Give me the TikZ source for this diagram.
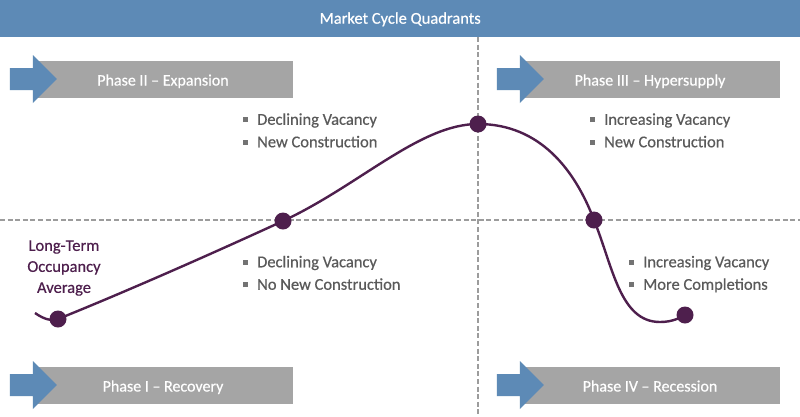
\documentclass[tikz,border=0pt]{standalone}
\usepackage{fontspec}
\setmainfont{Carlito}[FakeBold=0.5]
\usepackage{xcolor}
\usepackage{tikz}
\usetikzlibrary{calc}
\definecolor{headblue}{HTML}{5D8AB6}
\definecolor{bannergray}{HTML}{A5A5A5}
\definecolor{dashgray}{HTML}{9C9C9C}
\definecolor{plum}{HTML}{4E1F4D}
\definecolor{textgray}{HTML}{5A5A5A}
\tikzstyle{banner} = [fill=bannergray, text=white,
	minimum width = 260pt,
	minimum height = 37pt,
	inner sep = 0pt,
	text height = 13pt, text depth = 0pt,
	font = \fontsize{16pt}{18pt}\selectfont]
\tikzstyle{bullets} = [text=textgray, anchor=west, align=left,
	inner sep = 0pt,
	font = \fontsize{16.5pt}{22.5pt}\selectfont]
\tikzstyle{divider} = [dashgray, line width=1.6pt, dash pattern=on 5pt off 2.6pt]
\tikzstyle{cycle} = [plum, line width=2.4pt]
\tikzstyle{dot} = [circle, fill=plum, minimum size=17pt, inner sep=0pt]
\newcommand{\sq}{\strut\textcolor{textgray!85}{\rule[2.6pt]{5pt}{5pt}}\hspace{9pt}}
\newcommand{\drawphase}[3]{\node (#1) [banner] at #2 {#3};
	\fill[headblue] ($(#1.west) + (-23pt, 11pt)$) -- ++(23pt, 0) -- ++(0, 13pt)
	-- ++(24pt, -24pt) -- ++(-24pt, -24pt) -- ++(0, 13pt) -- ++(-23pt, 0) -- cycle}

\begin{document}
\begin{tikzpicture}[x=1pt, y=-1pt]
			\useasboundingbox (0,0) rectangle (800,416);
			\fill[white] (0,0) rectangle (800,416);
			
			% title bar
			\node (title) [fill=headblue, minimum width=800pt, minimum height=37pt, inner sep=0pt,
				text height=10pt, text depth=0pt,
				text=white, font=\fontsize{16.5pt}{18pt}\selectfont, anchor=north west] at (0,0) {Market Cycle Quadrants};
			
			% quadrant lines
			\coordinate (vtop) at (478,37);
			\coordinate (vbot) at (478,416);
			\coordinate (hleft) at (0,220);
			\coordinate (hright) at (800,220);
			\draw [divider] (vtop) -- (vbot);
			\draw [divider] (hleft) -- (hright);
			
			% phases
			\drawphase{ph2}{(163,79)}{Phase II -- Expansion};
			\drawphase{ph3}{(650,79)}{Phase III -- Hypersupply};
			\drawphase{ph1}{(163,385)}{Phase I -- Recovery};
			\drawphase{ph4}{(650,385)}{Phase IV -- Recession};
			
			% market curve
			\coordinate (c0) at (35,313);
			\coordinate (c1) at (58,319);
			\coordinate (c2) at (283,221);
			\coordinate (c3) at (478,124);
			\coordinate (c4) at (594,220);
			\coordinate (c5) at (685,315);
			\draw [cycle] (c0) .. controls (45,320) and (52,321) .. (c1)
				.. controls (130,290) and (220,250) .. (c2)
				.. controls (360,185) and (420,124) .. (c3)
				.. controls (540,124) and (575,170) .. (c4)
				.. controls (613,267) and (620,322) .. (660,322)
				.. controls (672,322) and (680,318) .. (c5);
			\foreach \i in {1,...,5}
				\node (p\i) [dot] at (c\i) {};
			
			% notes
			\node (avg) [text=plum, align=center, inner sep=0pt,
				font=\fontsize{16.5pt}{21pt}\selectfont] at (64,268) {Long-Term\\Occupancy\\Average};
			\node (n2) [bullets] at (243,131.5) {\sq Declining Vacancy\\\sq New Construction};
			\node (n3) [bullets] at (590,131.5) {\sq Increasing Vacancy\\\sq New Construction};
			\node (n1) [bullets] at (243,274) {\sq Declining Vacancy\\\sq No New Construction};
			\node (n4) [bullets] at (629,274) {\sq Increasing Vacancy\\\sq More Completions};
		\end{tikzpicture}
\end{document}
